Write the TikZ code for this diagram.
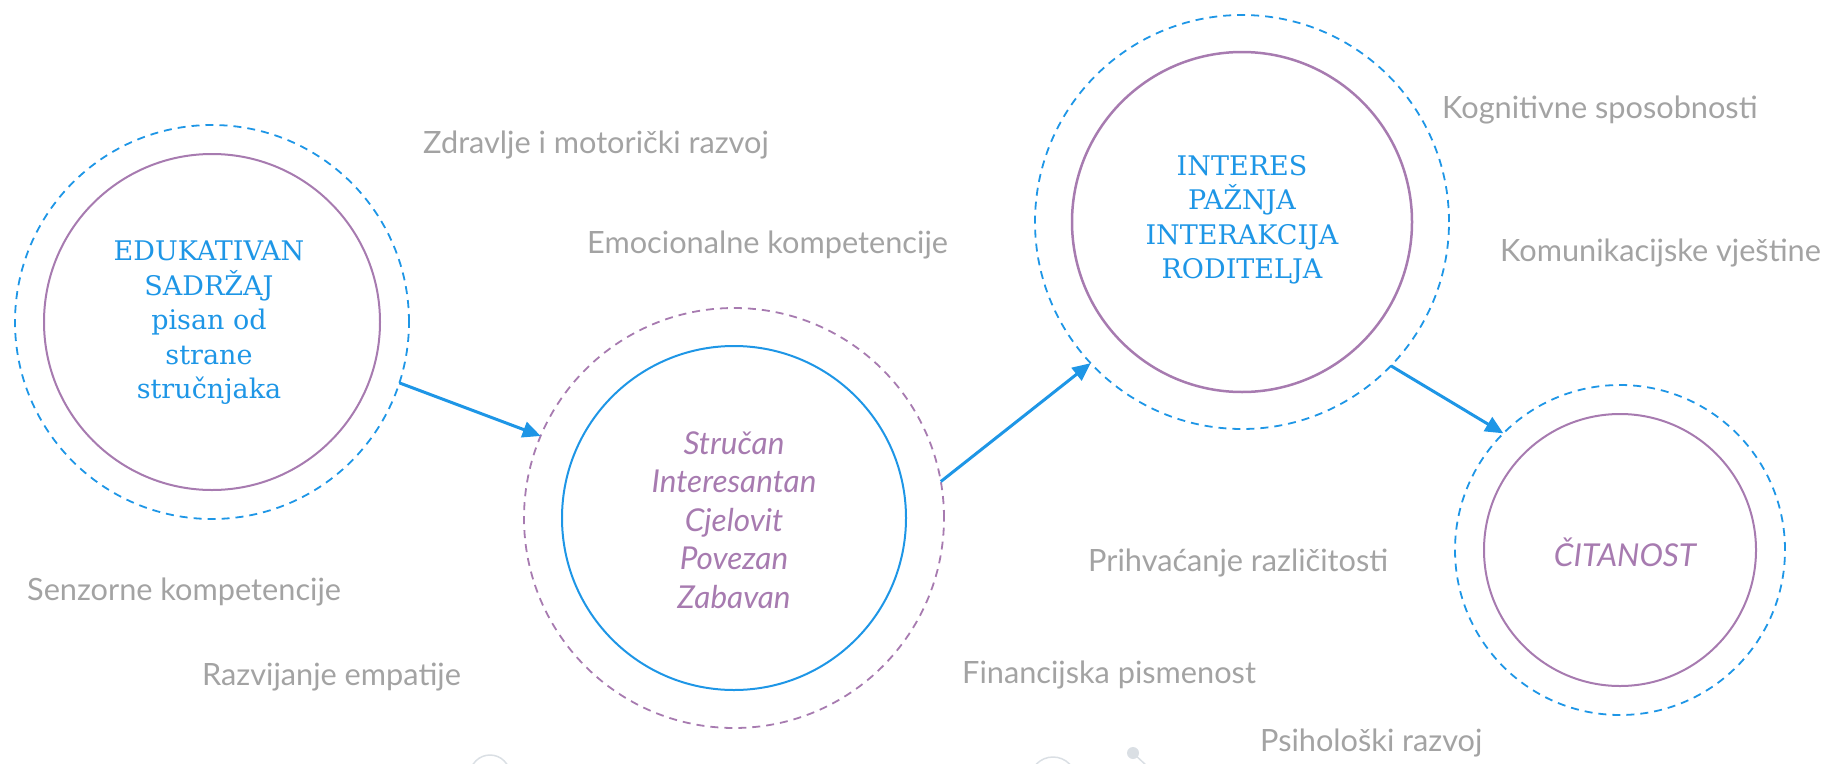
\documentclass[tikz,border=0pt]{standalone}
\usepackage{fontspec}
\usetikzlibrary{arrows.meta}
\newfontfamily\slabfont{DejaVu Serif}
\newfontfamily\labfont{Lato}
\definecolor{cblue}{HTML}{1E96E6}
\definecolor{cpurple}{HTML}{A77BB0}
\definecolor{cgrey}{HTML}{A3A3A3}
\definecolor{cfaint}{HTML}{DADFE4}
\tikzset{
  outerblue/.style={circle,draw=cblue,line width=1.8pt,dash pattern=on 8pt off 6pt,inner sep=0pt,outer sep=0pt},
  outerpurple/.style={circle,draw=cpurple,line width=1.8pt,dash pattern=on 8pt off 6pt,inner sep=0pt,outer sep=0pt},
  innerpurple/.style={circle,draw=cpurple,line width=2pt,inner sep=0pt},
  innerblue/.style={circle,draw=cblue,line width=2pt,inner sep=0pt},
  slabtext/.style={text=cblue,align=center,font=\slabfont\fontsize{27}{34.5}\selectfont},
  italtext/.style={text=cpurple,align=center,font=\labfont\itshape\fontsize{31.5}{38.5}\selectfont},
  lab/.style={text=cgrey,anchor=west,inner sep=0pt,font=\labfont\fontsize{30.7}{36}\selectfont},
  flow/.style={draw=cblue,line width=3pt,-{Triangle[length=18pt,width=16pt]}},
}
\begin{document}
\begin{tikzpicture}[x=1pt,y=-1pt]
\useasboundingbox (0,0) rectangle (1828,763);
% circles
\node[outerblue,minimum size=394pt] (c1) at (212,322) {};
\node[innerpurple,minimum size=336pt] (c1i) at (212,322) {};
\node[slabtext] (t1) at (209,323) {EDUKATIVAN\\SADRŽAJ\\pisan od\\strane\\stručnjaka};

\node[outerpurple,minimum size=420pt] (c2) at (734,518) {};
\node[innerblue,minimum size=344pt] (c2i) at (734,518) {};
\node[italtext] (t2) at (734,520) {Stručan\\Interesantan\\Cjelovit\\Povezan\\Zabavan};

\node[outerblue,minimum size=414pt] (c3) at (1242,222) {};
\node[innerpurple,line width=2.5pt,minimum size=340pt] (c3i) at (1242,222) {};
\node[slabtext] (t3) at (1242,220) {INTERES\\PAŽNJA\\INTERAKCIJA\\RODITELJA};

\node[outerblue,minimum size=330pt] (c4) at (1620,550) {};
\node[innerpurple,minimum size=272pt] (c4i) at (1620,550) {};
\node[italtext] (t4) at (1625,552) {ČITANOST};

% arrows
\draw[flow] (c1.-18) -- (c2.157);
\draw[flow] (c2.10) -- (c3.-137);
\draw[flow] (c3.-44) -- (c4.135);

% labels
\node[lab] (l1) at (423,145) {Zdravlje i motorički razvoj};
\node[lab] (l2) at (587,245) {Emocionalne kompetencije};
\node[lab] (l3) at (1442,110) {Kognitivne sposobnosti};
\node[lab] (l4) at (1500,253) {Komunikacijske vještine};
\node[lab] (l5) at (27,592) {Senzorne kompetencije};
\node[lab] (l6) at (202,677) {Razvijanje empatije};
\node[lab] (l7) at (1088,563) {Prihvaćanje različitosti};
\node[lab] (l8) at (962,675) {Financijska pismenost};
\node[lab] (l9) at (1260,743) {Psihološki razvoj};

% faint decorations at the bottom edge
\draw[cfaint,line width=1.5pt] (490,775) circle (20);
\draw[cfaint,line width=1.5pt] (1053,780) circle (23);
\fill[cfaint] (1133,753) circle (6) coordinate (dot);
\coordinate (dotend) at (1147,766);
\draw[cfaint,line width=1.5pt] (dot) -- (dotend);
\end{tikzpicture}
\end{document}
